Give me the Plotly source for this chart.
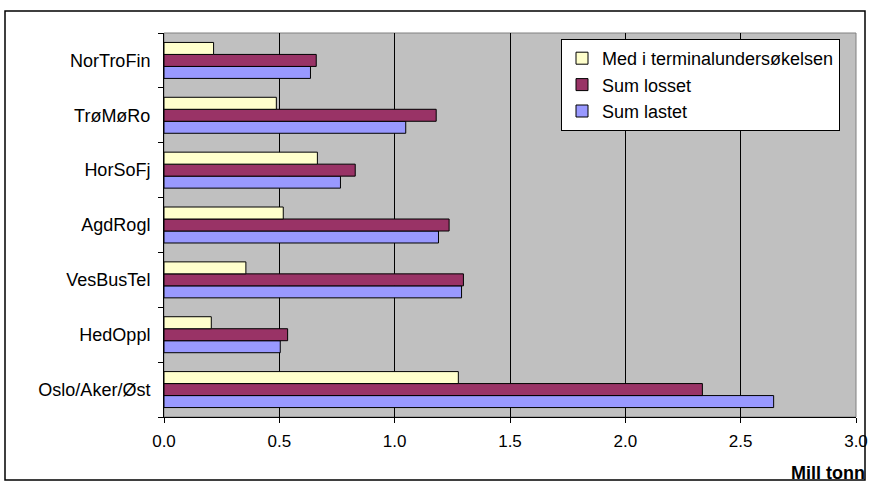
import plotly.graph_objects as go

# Regions, bottom to top
regions = ["Oslo/Aker/Øst", "HedOppl", "VesBusTel", "AgdRogl", "HorSoFj", "TrøMøRo", "NorTroFin"]

# Million tonnes per region
sum_lastet = [2.643, 0.504, 1.290, 1.190, 0.765, 1.048, 0.635]
sum_losset = [2.334, 0.536, 1.298, 1.236, 0.829, 1.180, 0.660]
med_i_terminal = [1.276, 0.205, 0.355, 0.517, 0.665, 0.487, 0.215]

series_names = ["Sum lastet", "Sum losset", "Med i terminalundersøkelsen"]
series_values = [sum_lastet, sum_losset, med_i_terminal]
series_colors = ["#9999FF", "#993366", "#FFFFCC"]

FONT = "Liberation Sans, Arial, sans-serif"

fig = go.Figure()
for name, vals, col in zip(series_names, series_values, series_colors):
    fig.add_trace(go.Bar(
        y=regions, x=vals, name=name, orientation="h",
        marker=dict(color=col, line=dict(color="#000000", width=1)),
        legendgroup=name,
    ))

# Plot area placement in pixels
W, H = 870, 484
L, R, T, B = 164, 856, 33, 417

def px_x(x):
    return (x - L) / (R - L)

def px_y(y):
    return (B - y) / (B - T)

fig.update_layout(
    width=W, height=H, autosize=False,
    margin=dict(l=L, r=W - R, t=T, b=H - B, pad=0),
    paper_bgcolor="#FFFFFF",
    plot_bgcolor="#C0C0C0",
    barmode="group",
    bargap=0.344,
    bargroupgap=0,
    font=dict(family=FONT, size=18, color="#000000"),
    xaxis=dict(
        range=[0, 3], dtick=0.5, tick0=0, tickformat=".1f",
        showgrid=True, gridcolor="#000000", gridwidth=1,
        showline=True, linecolor="#000000", linewidth=1,
        ticks="outside", ticklen=5, tickcolor="#000000",
        ticklabelstandoff=4,
        tickfont=dict(size=17),
        zeroline=False, fixedrange=True, automargin=False,
    ),
    yaxis=dict(
        type="category", categoryorder="array", categoryarray=regions,
        showgrid=False,
        showline=True, linecolor="#000000", linewidth=1,
        ticks="outside", ticklen=5, tickcolor="#000000",
        tickson="boundaries",
        ticklabelstandoff=9,
        tickfont=dict(size=18),
        fixedrange=True, automargin=False,
    ),
    legend=dict(
        x=px_x(561), y=px_y(39), xanchor="left", yanchor="top",
        bgcolor="#FFFFFF", bordercolor="#000000", borderwidth=1,
        traceorder="reversed", tracegroupgap=5,
        font=dict(size=18),
        itemwidth=30,
    ),
    showlegend=True,
    shapes=[
        # grey frame around the plotting area
        dict(type="rect", xref="paper", yref="paper", x0=0, x1=1, y0=0, y1=1,
             line=dict(color="#808080", width=1), layer="below"),
        # outer chart border
        dict(type="rect", xref="paper", yref="paper",
             x0=px_x(5), x1=px_x(865), y0=px_y(480), y1=px_y(11),
             line=dict(color="#000000", width=1.5)),
    ],
    annotations=[
        dict(text="<b>Mill tonn</b>", xref="paper", yref="paper",
             x=px_x(867), y=px_y(473), xanchor="right", yanchor="middle",
             showarrow=False, font=dict(size=18, family=FONT, color="#000000")),
    ],
)

fig.write_html("out.html")
